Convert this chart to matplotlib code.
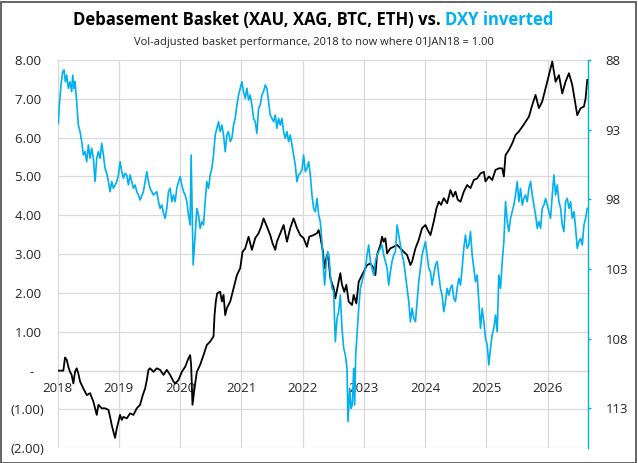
import matplotlib
matplotlib.use("Agg")
import matplotlib.pyplot as plt
from matplotlib.patches import Rectangle
from matplotlib.ticker import FixedLocator, FuncFormatter
import numpy as np

plt.rcParams['font.family'] = ['Open Sans', 'DejaVu Sans']

# ---- Data ----
# Debasement basket (left axis); time in years since 01JAN2018
basket_t = [0.000, 0.095, 0.123, 0.150, 0.177, 0.204, 0.231, 0.259, 0.286, 0.313, 0.340, 0.368,
            0.422, 0.477, 0.531, 0.586, 0.640, 0.667, 0.722, 0.776, 0.831, 0.858, 0.885, 0.912,
            0.940, 0.967, 0.994, 1.021, 1.049, 1.076, 1.130, 1.185, 1.239, 1.294, 1.348, 1.392,
            1.430, 1.458, 1.484, 1.512, 1.566, 1.620, 1.675, 1.730, 1.784, 1.838, 1.893, 1.920,
            1.975, 2.029, 2.084, 2.138, 2.165, 2.181, 2.203, 2.236, 2.274, 2.328, 2.383, 2.437,
            2.492, 2.546, 2.563, 2.584, 2.606, 2.655, 2.683, 2.710, 2.737, 2.764, 2.819, 2.873,
            2.928, 2.982, 3.020, 3.064, 3.118, 3.145, 3.173, 3.227, 3.282, 3.325, 3.363, 3.418,
            3.472, 3.510, 3.554, 3.581, 3.636, 3.690, 3.745, 3.799, 3.853, 3.908, 3.962, 4.017,
            4.071, 4.109, 4.180, 4.235, 4.262, 4.289, 4.333, 4.355, 4.398, 4.425, 4.453, 4.507,
            4.534, 4.589, 4.616, 4.643, 4.681, 4.714, 4.752, 4.807, 4.834, 4.877, 4.916, 4.970,
            4.997, 5.052, 5.106, 5.161, 5.188, 5.215, 5.270, 5.297, 5.324, 5.351, 5.379, 5.433,
            5.487, 5.542, 5.596, 5.651, 5.705, 5.760, 5.787, 5.842, 5.896, 5.950, 6.005, 6.043,
            6.087, 6.141, 6.185, 6.223, 6.261, 6.304, 6.359, 6.413, 6.457, 6.495, 6.533, 6.577,
            6.631, 6.686, 6.740, 6.795, 6.849, 6.904, 6.958, 6.985, 7.040, 7.094, 7.149, 7.203,
            7.258, 7.285, 7.312, 7.366, 7.421, 7.475, 7.530, 7.585, 7.639, 7.694, 7.748, 7.802,
            7.857, 7.911, 7.966, 8.020, 8.075, 8.102, 8.129, 8.184, 8.238, 8.292, 8.347, 8.401,
            8.456, 8.483, 8.538, 8.592, 8.619, 8.646]
basket_v = [0.00, 0.00, 0.34, 0.28, 0.10, -0.03, -0.11, -0.33, -0.03, 0.06, -0.07, -0.28,
            -0.46, -0.63, -0.58, -0.80, -1.14, -0.88, -0.97, -0.97, -1.01, -1.19, -1.40, -1.57,
            -1.73, -1.49, -1.31, -1.14, -1.27, -1.19, -1.23, -1.10, -1.14, -0.97, -0.88, -0.63,
            -0.46, -0.24, 0.02, 0.06, -0.03, 0.06, 0.02, -0.11, 0.02, -0.11, -0.28, -0.33,
            -0.24, -0.03, 0.10, 0.32, 0.40, 0.15, -0.88, -0.46, -0.03, 0.15, 0.40, 0.66,
            0.75, 0.88, 1.43, 1.78, 1.99, 2.03, 1.78, 1.95, 1.43, 1.61, 1.78, 2.12,
            2.46, 2.64, 3.06, 3.15, 3.45, 3.28, 3.11, 3.41, 3.54, 3.71, 3.92, 3.71,
            3.49, 3.28, 3.11, 3.32, 3.54, 3.75, 3.32, 3.67, 3.92, 3.67, 3.49, 3.41,
            3.19, 3.45, 3.49, 3.54, 3.62, 3.45, 3.06, 2.64, 2.98, 2.85, 2.38, 2.12,
            1.86, 2.29, 2.51, 2.21, 2.03, 2.21, 1.78, 1.69, 1.95, 1.73, 2.29, 2.46,
            2.55, 2.72, 2.76, 2.64, 2.46, 2.98, 3.24, 3.45, 3.32, 3.41, 3.02, 3.15,
            3.19, 3.24, 3.15, 3.06, 2.98, 2.72, 2.81, 3.15, 3.37, 3.67, 3.75, 3.62,
            3.49, 3.84, 4.18, 4.35, 4.27, 4.44, 4.31, 4.65, 4.48, 4.61, 4.40, 4.35,
            4.61, 4.78, 4.70, 4.91, 4.95, 5.08, 5.12, 4.87, 5.00, 4.91, 5.17, 5.21,
            5.21, 5.00, 5.55, 5.68, 5.85, 6.07, 6.16, 6.28, 6.41, 6.54, 6.84, 7.10,
            6.76, 6.93, 7.27, 7.61, 7.96, 7.70, 7.44, 7.61, 7.14, 7.44, 7.66, 7.36,
            6.84, 6.58, 6.76, 6.80, 7.01, 7.49]

# DXY (right axis, inverted); time in years since 01JAN2018
dxy_t = [0.000, 0.014, 0.030, 0.057, 0.084, 0.106, 0.128, 0.150, 0.177, 0.204, 0.231, 0.248,
         0.270, 0.286, 0.313, 0.340, 0.368, 0.395, 0.422, 0.449, 0.477, 0.504, 0.531, 0.558,
         0.586, 0.613, 0.640, 0.667, 0.694, 0.722, 0.749, 0.776, 0.803, 0.831, 0.858, 0.885,
         0.912, 0.940, 0.967, 0.994, 1.021, 1.049, 1.076, 1.103, 1.130, 1.157, 1.185, 1.212,
         1.239, 1.266, 1.294, 1.321, 1.348, 1.402, 1.457, 1.484, 1.511, 1.566, 1.620, 1.648,
         1.675, 1.702, 1.729, 1.757, 1.784, 1.811, 1.838, 1.866, 1.893, 1.920, 1.947, 1.975,
         2.002, 2.029, 2.057, 2.084, 2.111, 2.138, 2.165, 2.181, 2.214, 2.247, 2.274, 2.301,
         2.328, 2.356, 2.383, 2.410, 2.437, 2.465, 2.492, 2.519, 2.546, 2.574, 2.601, 2.628,
         2.655, 2.683, 2.710, 2.737, 2.764, 2.791, 2.819, 2.846, 2.873, 2.900, 2.928, 2.955,
         2.982, 3.009, 3.036, 3.064, 3.091, 3.118, 3.145, 3.173, 3.200, 3.227, 3.254, 3.282,
         3.309, 3.336, 3.363, 3.391, 3.418, 3.445, 3.472, 3.500, 3.527, 3.554, 3.581, 3.608,
         3.636, 3.663, 3.690, 3.717, 3.745, 3.772, 3.799, 3.826, 3.853, 3.881, 3.908, 3.935,
         3.962, 3.990, 4.017, 4.044, 4.071, 4.099, 4.126, 4.153, 4.180, 4.207, 4.235, 4.262,
         4.289, 4.316, 4.344, 4.360, 4.387, 4.409, 4.431, 4.453, 4.480, 4.507, 4.534, 4.562,
         4.589, 4.616, 4.643, 4.671, 4.698, 4.725, 4.741, 4.769, 4.790, 4.812, 4.834, 4.850,
         4.867, 4.888, 4.916, 4.943, 4.970, 4.997, 5.025, 5.052, 5.079, 5.106, 5.133, 5.161,
         5.188, 5.215, 5.242, 5.270, 5.297, 5.324, 5.351, 5.379, 5.406, 5.433, 5.460, 5.487,
         5.515, 5.542, 5.569, 5.596, 5.624, 5.651, 5.678, 5.705, 5.733, 5.760, 5.787, 5.814,
         5.842, 5.869, 5.896, 5.923, 5.950, 5.978, 6.005, 6.032, 6.059, 6.087, 6.114, 6.141,
         6.168, 6.196, 6.223, 6.250, 6.277, 6.304, 6.332, 6.359, 6.386, 6.413, 6.441, 6.468,
         6.495, 6.522, 6.550, 6.577, 6.604, 6.631, 6.658, 6.686, 6.713, 6.740, 6.768, 6.795,
         6.822, 6.849, 6.876, 6.904, 6.931, 6.958, 6.985, 7.013, 7.040, 7.067, 7.094, 7.121,
         7.149, 7.176, 7.203, 7.230, 7.258, 7.285, 7.312, 7.340, 7.366, 7.394, 7.421, 7.448,
         7.475, 7.503, 7.530, 7.557, 7.585, 7.612, 7.639, 7.666, 7.694, 7.721, 7.748, 7.775,
         7.802, 7.830, 7.857, 7.884, 7.911, 7.939, 7.966, 7.993, 8.020, 8.047, 8.075, 8.102,
         8.129, 8.156, 8.184, 8.211, 8.238, 8.265, 8.292, 8.320, 8.347, 8.374, 8.401, 8.429,
         8.456, 8.483, 8.510, 8.538, 8.565, 8.592, 8.619, 8.646]
dxy_v = [91.95, 92.55, 91.23, 89.79, 88.84, 88.72, 89.56, 89.08, 90.03, 89.56, 90.27, 89.08,
         90.03, 89.56, 90.99, 92.67, 93.14, 93.86, 94.82, 94.58, 95.30, 94.10, 95.06, 94.34,
         95.06, 96.73, 95.06, 94.58, 95.06, 93.98, 94.82, 95.78, 96.13, 96.73, 97.45, 96.73,
         97.21, 96.97, 96.73, 96.25, 95.30, 96.01, 96.49, 96.13, 96.25, 96.97, 96.25, 96.73,
         97.21, 96.97, 97.45, 97.69, 98.05, 97.45, 96.01, 96.73, 97.21, 97.69, 97.45, 98.17,
         98.65, 98.41, 99.00, 99.36, 98.65, 97.45, 97.21, 98.17, 97.69, 98.17, 97.21, 96.73,
         96.37, 96.97, 97.45, 97.69, 98.17, 99.12, 99.84, 94.82, 102.71, 100.56, 98.65, 99.12,
         100.08, 99.60, 99.84, 98.17, 96.73, 97.21, 96.25, 95.78, 94.82, 93.38, 92.90, 92.43,
         93.14, 92.67, 93.38, 94.58, 93.38, 93.14, 93.86, 93.62, 92.67, 92.19, 91.23, 90.51,
         90.03, 89.56, 90.27, 90.75, 90.03, 90.87, 90.51, 91.23, 92.19, 92.43, 93.26, 91.47,
         91.23, 90.51, 90.27, 89.79, 90.03, 90.99, 91.95, 92.19, 92.43, 91.95, 92.90, 92.19,
         92.67, 92.19, 93.14, 93.62, 93.14, 93.86, 93.38, 94.10, 94.82, 95.54, 96.73, 96.25,
         96.13, 95.89, 94.82, 96.01, 95.78, 95.30, 96.25, 97.69, 98.65, 98.89, 97.93, 99.12,
         99.60, 101.04, 103.19, 104.15, 102.47, 101.76, 102.00, 103.43, 104.39, 104.63, 108.22, 106.54,
         106.06, 104.87, 107.26, 108.69, 109.17, 110.13, 113.95, 111.56, 113.00, 112.76, 110.13, 112.76,
         109.17, 107.74, 105.82, 104.39, 103.91, 103.43, 102.95, 102.00, 101.28, 102.47, 102.95, 103.43,
         102.47, 102.00, 101.76, 101.52, 101.28, 102.00, 102.47, 102.95, 104.15, 103.19, 102.47, 102.00,
         101.76, 99.84, 100.56, 101.28, 102.00, 102.47, 103.43, 104.39, 105.34, 106.78, 105.82, 106.54,
         106.78, 105.34, 103.91, 102.95, 102.00, 101.52, 101.04, 102.00, 102.95, 103.19, 104.15, 103.43,
         102.71, 102.47, 103.43, 104.39, 104.87, 106.06, 105.34, 104.39, 104.87, 104.39, 104.15, 105.11,
         105.34, 104.39, 103.67, 104.15, 102.95, 101.52, 100.56, 101.52, 101.28, 100.32, 102.00, 102.95,
         103.91, 103.43, 105.34, 107.26, 105.82, 106.78, 107.98, 108.45, 109.89, 108.69, 107.74, 107.26,
         106.30, 107.50, 103.43, 104.39, 102.47, 101.04, 98.17, 99.60, 100.32, 99.36, 98.89, 98.41,
         97.69, 96.73, 98.17, 97.21, 98.41, 97.93, 97.69, 98.17, 97.21, 96.73, 97.69, 98.41,
         99.12, 100.08, 99.60, 100.08, 98.65, 98.41, 97.93, 98.41, 98.89, 99.36, 97.69, 96.25,
         97.69, 96.97, 98.17, 98.65, 99.84, 100.32, 98.17, 97.93, 98.65, 98.17, 99.36, 98.89,
         100.08, 101.52, 101.04, 100.80, 101.28, 99.84, 99.36, 98.65]

start_year = 2018
year_ticks = list(range(2018, 2027))
left_ticks = list(range(-2, 9))
right_ticks = [88, 93, 98, 103, 108, 113]

title_main = "Debasement Basket (XAU, XAG, BTC, ETH) vs. "
title_blue = "DXY inverted"
subtitle = "Vol-adjusted basket performance, 2018 to now where 01JAN18 = 1.00"

BLUE = "#00B0F0"
GRID = "#D9D9D9"
TXT = "#262626"

W, H = 638, 463
fig = plt.figure(figsize=(W / 100, H / 100), dpi=100)
fig.patch.set_facecolor("white")

l, r, t, b = 57.5, 587.5, 60, 448.3
ax = fig.add_axes([l / W, 1 - b / H, (r - l) / W, (b - t) / H])
ax2 = ax.twinx()

bx = np.array(basket_t) + start_year
dx = np.array(dxy_t) + start_year

ax.plot(bx, basket_v, color="black", lw=1.3, zorder=3)
ax2.plot(dx, dxy_v, color=BLUE, lw=1.2, zorder=3)

ax.set_xlim(2018.0, 2026.65)
ax.set_ylim(-2, 8)
ax2.set_ylim(115.87, 88)

# grid
ax.yaxis.set_major_locator(FixedLocator(left_ticks))
ax.xaxis.set_major_locator(FixedLocator(year_ticks))
ax.grid(True, color=GRID, lw=0.9)
ax.set_axisbelow(True)

for s in ["top", "left", "right"]:
    ax.spines[s].set_visible(False)
ax.spines["bottom"].set_position(("data", 0))
ax.spines["bottom"].set_color(GRID)
ax.spines["bottom"].set_linewidth(0.9)

def left_fmt(v, pos):
    if abs(v) < 1e-9:
        return "-   "
    if v < 0:
        return "(%.2f)" % abs(v)
    return "%.2f " % v

ax.yaxis.set_major_formatter(FuncFormatter(left_fmt))
ax.tick_params(axis="y", length=0, pad=9.5, labelsize=9.5, labelcolor=TXT)
ax.tick_params(axis="x", length=0, pad=8.5, labelsize=9.5, labelcolor=TXT)

for s in ["top", "left", "bottom"]:
    ax2.spines[s].set_visible(False)
ax2.spines["right"].set_color(BLUE)
ax2.spines["right"].set_linewidth(1.0)
ax2.yaxis.set_major_locator(FixedLocator(right_ticks))
ax2.tick_params(axis="y", direction="out", length=2.5, width=1.0, color=BLUE,
                pad=10.5, labelsize=9.5, labelcolor=TXT)

# title in two colours
renderer = fig.canvas.get_renderer()
fs_title = 12
t1 = fig.text(0, 0, title_main, fontsize=fs_title, fontweight="bold", color="black")
t2 = fig.text(0, 0, title_blue, fontsize=fs_title, fontweight="bold", color=BLUE)
w1 = t1.get_window_extent(renderer).width
w2 = t2.get_window_extent(renderer).width
cx = 313.0
x0 = cx - (w1 + w2) / 2
ty = 1 - 20.0 / H
t1.set_position((x0 / W, ty)); t1.set_va("center")
t2.set_position(((x0 + w1) / W, ty)); t2.set_va("center")

fig.text(313.5 / W, 1 - 43.0 / H, subtitle, fontsize=8.0, color=TXT, ha="center", va="center")

# figure frame
fig.patches.append(Rectangle((0.5 / W, 0.5 / H), (W - 2.5) / W, (H - 2.5) / H,
                             transform=fig.transFigure, fill=False,
                             edgecolor="#595959", lw=1.3))

fig.savefig("out.png", dpi=100)
